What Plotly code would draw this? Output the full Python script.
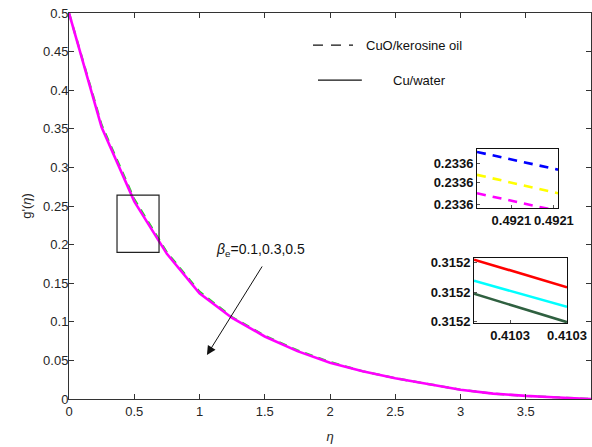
import plotly.graph_objects as go

# Velocity profile g'(eta) for the two nanofluids
eta = [0, 0.25, 0.5, 0.75, 1.0, 1.25, 1.5, 1.75, 2.0, 2.25, 2.5, 2.75, 3.0, 3.25, 3.5, 3.75, 4.0]
g_cuo_kerosine = [0.5, 0.355, 0.259, 0.190, 0.139, 0.106, 0.082, 0.063, 0.048, 0.036, 0.027, 0.019, 0.012, 0.007, 0.004, 0.002, 0.0]
g_cu_water = [0.5, 0.352, 0.256, 0.188, 0.137, 0.105, 0.081, 0.062, 0.047, 0.036, 0.027, 0.019, 0.012, 0.007, 0.004, 0.002, 0.0]

# Zoomed view 1: CuO/kerosine oil, beta_e = 0.1, 0.3, 0.5
zoom1_eta = [0.49206, 0.49214]
zoom1_b01 = [0.233636, 0.233612]
zoom1_b03 = [0.233605, 0.233580]
zoom1_b05 = [0.233580, 0.233556]
zoom1_xticks = [0.492094, 0.492136]
zoom1_yticks = [0.233565, 0.233594, 0.233621]

# Zoomed view 2: Cu/water, beta_e = 0.1, 0.3, 0.5
zoom2_eta = [0.41026, 0.41034]
zoom2_b01 = [0.315238, 0.315204]
zoom2_b03 = [0.315212, 0.315180]
zoom2_b05 = [0.315196, 0.315161]
zoom2_xticks = [0.410291, 0.41034]
zoom2_yticks = [0.315162, 0.315197, 0.315234]

beta_label = "<i>β</i><sub>e</sub>=0.1,0.3,0.5"

fig = go.Figure()

fig.add_trace(go.Scatter(x=eta, y=g_cuo_kerosine, mode="lines",
                         line=dict(color="#22dd22", width=2.2, dash="8px,6px"),
                         showlegend=False))
fig.add_trace(go.Scatter(x=eta, y=g_cu_water, mode="lines",
                         line=dict(color="#ff00ff", width=2.6),
                         showlegend=False))

for ys, col in zip([zoom1_b01, zoom1_b03, zoom1_b05], ["#0000ff", "#ffff00", "#ff00ff"]):
    fig.add_trace(go.Scatter(x=zoom1_eta, y=ys, mode="lines", xaxis="x2", yaxis="y2",
                             line=dict(color=col, width=2.6, dash="9px,7px"),
                             showlegend=False))
for ys, col in zip([zoom2_b01, zoom2_b03, zoom2_b05], ["#ff0000", "#00ffff", "#2f6040"]):
    fig.add_trace(go.Scatter(x=zoom2_eta, y=ys, mode="lines", xaxis="x3", yaxis="y3",
                             line=dict(color=col, width=2.6),
                             showlegend=False))

axis_font = dict(family="Arial", size=13, color="#262626")
inset_font = dict(family="Arial", size=13, color="#111111", weight="bold")

main_axis = dict(showline=True, linecolor="#333333", linewidth=1, mirror="ticks",
                 ticks="inside", ticklen=5, tickcolor="#333333", showgrid=False,
                 zeroline=False, tickfont=axis_font, automargin=False)

inset_x = dict(showline=True, linecolor="#111111", linewidth=1, mirror=True,
               ticks="inside", ticklen=3, tickcolor="#555555", showgrid=False,
               zeroline=False, tickfont=inset_font, tickformat=".4f",
               tickangle=0, automargin=False)

fig.update_layout(
    width=592, height=447,
    margin=dict(l=69, r=1, t=13, b=48),
    paper_bgcolor="white", plot_bgcolor="white",
    xaxis=dict(main_axis, range=[0, 4], tickvals=[0, 0.5, 1, 1.5, 2, 2.5, 3, 3.5, 4],
               ticktext=["0", "0.5", "1", "1.5", "2", "2.5", "3", "3.5", "4"],
               title=dict(text="<i>η</i>", font=dict(family="Arial", size=13, color="#262626"),
                          standoff=14)),
    yaxis=dict(main_axis, range=[0, 0.5], ticklabelstandoff=-3,
               tickvals=[0, 0.05, 0.1, 0.15, 0.2, 0.25, 0.3, 0.35, 0.4, 0.45, 0.5],
               ticktext=["0", "0.05", "0.1", "0.15", "0.2", "0.25", "0.3", "0.35", "0.4", "0.45", "0.5"],
               title=dict(text="g'(<i>η</i>)", font=dict(family="Arial", size=13, color="#262626"),
                          standoff=8)),
    xaxis2=dict(inset_x, domain=[0.7816, 0.9368], range=[0.49206, 0.49214],
                tickvals=zoom1_xticks, anchor="y2"),
    yaxis2=dict(inset_x, domain=[0.4948, 0.6477], range=[0.23356, 0.23364],
                tickvals=zoom1_yticks, anchor="x2"),
    xaxis3=dict(inset_x, domain=[0.7759, 0.9540], range=[0.41026, 0.41034],
                tickvals=zoom2_xticks, anchor="y3"),
    yaxis3=dict(inset_x, domain=[0.1969, 0.3653], range=[0.31516, 0.31524],
                tickvals=zoom2_yticks, anchor="x3"),
)

# Zoom window on the main curves
fig.add_shape(type="rect", xref="x", yref="y", x0=0.368, x1=0.69, y0=0.19, y1=0.264,
              line=dict(color="#222222", width=1.2))

# Legend drawn by hand
fig.add_shape(type="line", xref="paper", yref="paper", x0=0.4674, x1=0.5441, y0=0.917, y1=0.917,
              line=dict(color="#111111", width=1.2, dash="10px,8px"))
fig.add_shape(type="line", xref="paper", yref="paper", x0=0.477, x1=0.561, y0=0.826, y1=0.826,
              line=dict(color="#111111", width=1.2))
fig.add_annotation(xref="paper", yref="paper", x=0.565, y=0.917, text="CuO/kerosine oil",
                   showarrow=False, xanchor="left", yanchor="middle",
                   font=dict(family="Arial", size=13, color="#111111"))
fig.add_annotation(xref="paper", yref="paper", x=0.617, y=0.826, text="Cu/water",
                   showarrow=False, xanchor="left", yanchor="middle",
                   font=dict(family="Arial", size=13, color="#111111"))

# Parameter label and arrow
fig.add_annotation(xref="paper", yref="paper", x=0.278, y=0.386, text=beta_label,
                   showarrow=False, xanchor="left", yanchor="middle",
                   font=dict(family="Arial", size=14, color="#111111"))
fig.add_annotation(x=1.057, y=0.057, ax=1.487, ay=0.1736, xref="x", yref="y",
                   axref="x", ayref="y", text="", showarrow=True,
                   arrowhead=2, arrowsize=1.8, arrowwidth=1, arrowcolor="#111111")

fig.write_html("out.html")
